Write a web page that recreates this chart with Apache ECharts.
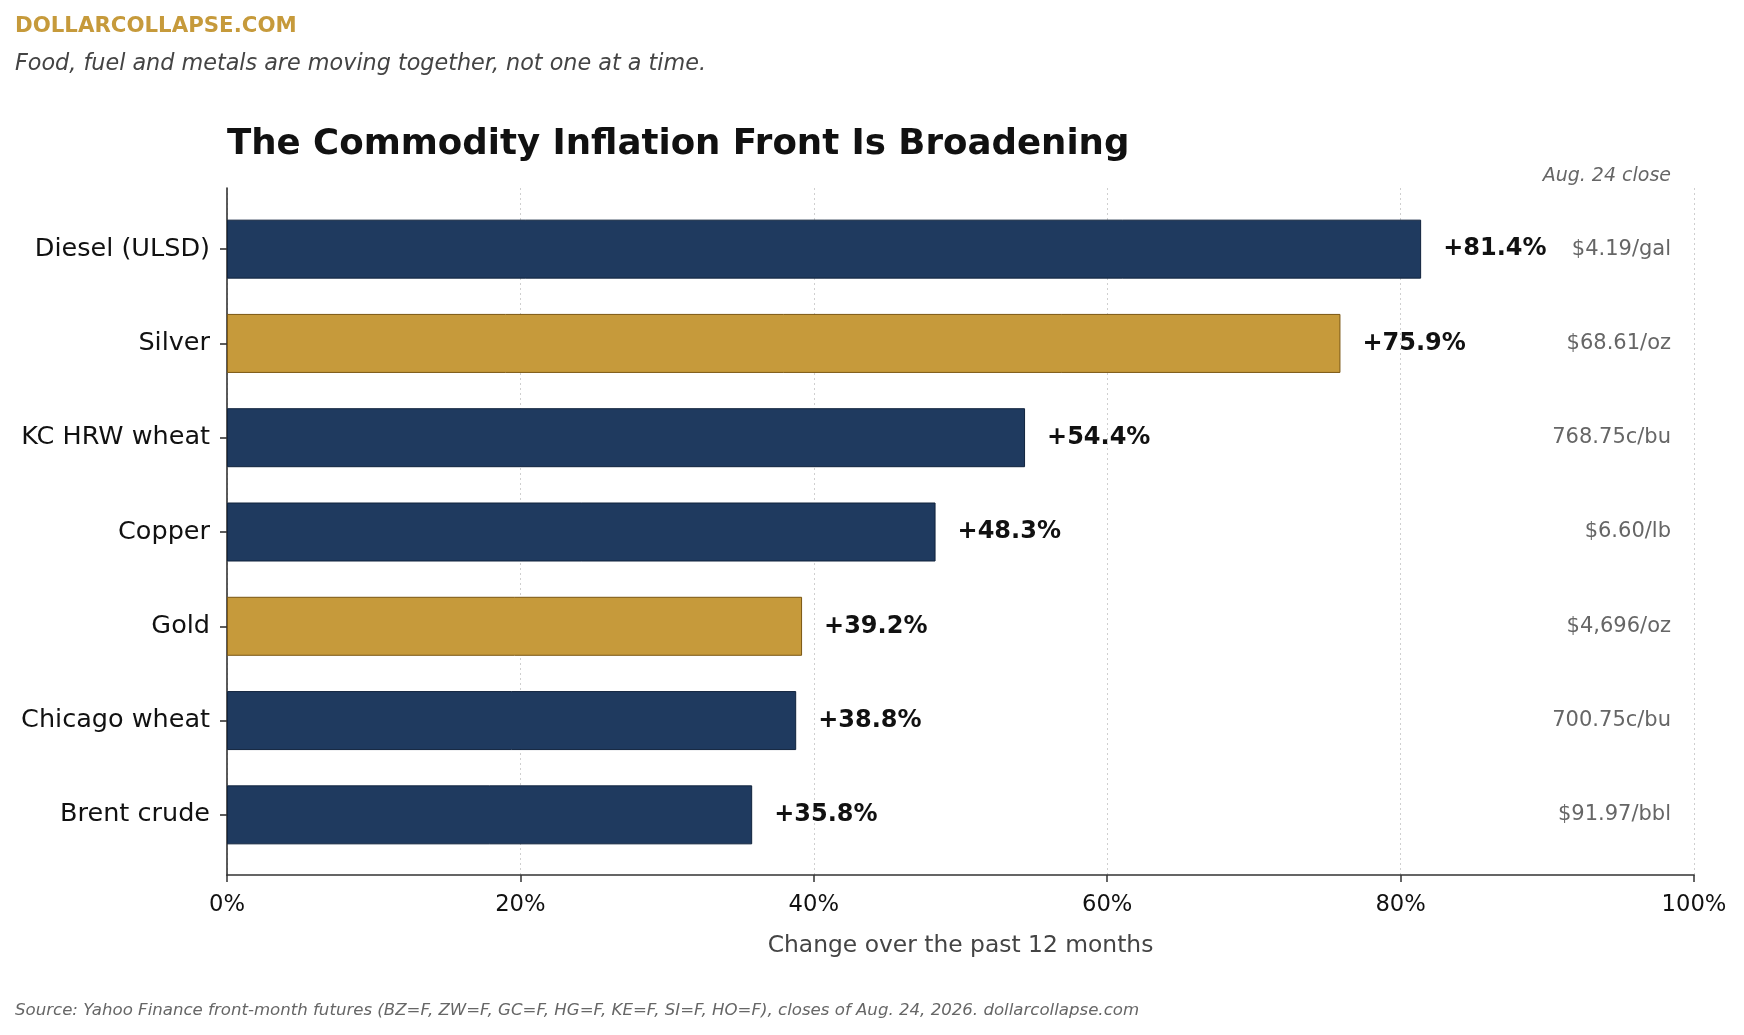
<!DOCTYPE html>
<html>
<head>
<meta charset="utf-8">
<title>The Commodity Inflation Front Is Broadening</title>
<script src="https://cdn.jsdelivr.net/npm/echarts@6/dist/echarts.min.js"></script>
<style>
  html, body { margin: 0; padding: 0; background: #ffffff; }
  #chart { width: 1744px; height: 1035px; }
</style>
</head>
<body>
<div id="chart"></div>
<script>
const FONT = "DejaVu Sans";

// data, top to bottom
const commodities = ["Diesel (ULSD)", "Silver", "KC HRW wheat", "Copper", "Gold", "Chicago wheat", "Brent crude"];
const yearChange = [81.4, 75.9, 54.4, 48.3, 39.2, 38.8, 35.8];
const closePrices = ["$4.19/gal", "$68.61/oz", "768.75c/bu", "$6.60/lb", "$4,696/oz", "700.75c/bu", "$91.97/bbl"];
const preciousMetals = ["Silver", "Gold"];
const xTicks = [0, 20, 40, 60, 80, 100];

const NAVY = "#1f3a5f";
const NAVY_EDGE = "#10233d";
const GOLD = "#c69a3b";
const GOLD_EDGE = "#7a5612";

const chart = echarts.init(document.getElementById("chart"));
window.addEventListener("resize", () => chart.resize());

const barData = commodities.map((name, i) => {
  const metal = preciousMetals.includes(name);
  return {
    value: yearChange[i],
    itemStyle: {
      color: metal ? GOLD : NAVY,
      borderColor: metal ? GOLD_EDGE : NAVY_EDGE,
      borderWidth: 1,
    },
  };
});

chart.setOption({
  animation: false,
  backgroundColor: "#ffffff",
  textStyle: { fontFamily: FONT },
  title: [
    {
      text: "DOLLARCOLLAPSE.COM",
      left: 15, top: 16, padding: 0,
      textStyle: { fontFamily: FONT, fontSize: 21.3, fontWeight: "bold", color: GOLD, lineHeight: 21 },
    },
    {
      text: "Food, fuel and metals are moving together, not one at a time.",
      left: 15, top: 53, padding: 0,
      textStyle: { fontFamily: FONT, fontSize: 22.3, fontStyle: "italic", fontWeight: "normal", color: "#444444", lineHeight: 22 },
    },
    {
      text: "The Commodity Inflation Front Is Broadening",
      left: 227, top: 127, padding: 0,
      textStyle: { fontFamily: FONT, fontSize: 35.6, fontWeight: "bold", color: "#111111", lineHeight: 36 },
    },
    {
      text: "Aug. 24 close",
      right: 73, top: 167, padding: 0,
      textStyle: { fontFamily: FONT, fontSize: 19, fontStyle: "italic", fontWeight: "normal", color: "#666666", lineHeight: 19 },
    },
    {
      text: "Source: Yahoo Finance front-month futures (BZ=F, ZW=F, GC=F, HG=F, KE=F, SI=F, HO=F), closes of Aug. 24, 2026. dollarcollapse.com",
      left: 15, top: 1002, padding: 0,
      textStyle: { fontFamily: FONT, fontSize: 16.6, fontStyle: "italic", fontWeight: "normal", color: "#666666", lineHeight: 17 },
    },
  ],
  grid: [
    // frame: spines, ticks and gridlines
    { left: 227, right: 50, top: 188, bottom: 160 },
    // bars: categories sit inside the frame with matplotlib-like padding
    { left: 227, right: 50, top: 202, bottom: 173 },
  ],
  xAxis: [
    {
      gridIndex: 0,
      type: "value",
      min: xTicks[0],
      max: xTicks[xTicks.length - 1],
      interval: 20,
      name: "Change over the past 12 months",
      nameLocation: "middle",
      nameGap: 59,
      nameTextStyle: { fontFamily: FONT, fontSize: 23.4, color: "#444444" },
      axisLine: { show: true, lineStyle: { color: "#333333", width: 1.6 } },
      axisTick: { show: true, length: 7, lineStyle: { color: "#333333", width: 1.5 } },
      axisLabel: {
        formatter: "{value}%",
        fontFamily: FONT, fontSize: 22.7, color: "#111111", margin: 19,
      },
      splitLine: { show: true, lineStyle: { color: "#cfcfcf", type: [2, 3], width: 1 } },
    },
    {
      gridIndex: 1,
      type: "value",
      min: xTicks[0],
      max: xTicks[xTicks.length - 1],
      show: false,
    },
  ],
  yAxis: [
    {
      gridIndex: 0,
      type: "value",
      min: 0,
      max: 1,
      axisLine: { show: true, lineStyle: { color: "#333333", width: 1.6 } },
      axisTick: { show: false },
      axisLabel: { show: false },
      splitLine: { show: false },
    },
    {
      gridIndex: 1,
      type: "category",
      inverse: true,
      data: commodities,
      axisLine: { show: false },
      axisTick: { show: true, alignWithLabel: true, length: 7, lineStyle: { color: "#333333", width: 1.6 } },
      axisLabel: { fontFamily: FONT, fontSize: 25.5, color: "#111111", margin: 17, padding: [8, 0, 0, 0] },
      splitLine: { show: false },
    },
    {
      gridIndex: 1,
      type: "category",
      inverse: true,
      position: "right",
      data: closePrices,
      axisLine: { show: false },
      axisTick: { show: false },
      axisLabel: { inside: true, margin: 23, fontFamily: FONT, fontSize: 21, color: "#666666", padding: [4, 0, 0, 0] },
      splitLine: { show: false },
    },
  ],
  series: [
    {
      type: "bar",
      xAxisIndex: 1,
      yAxisIndex: 1,
      barWidth: 59,
      data: barData,
      label: {
        show: true,
        position: "right",
        distance: 22,
        padding: [8, 0, 0, 0],
        formatter: (p) => "+" + p.value.toFixed(1) + "%",
        fontFamily: FONT,
        fontSize: 24,
        fontWeight: "bold",
        color: "#111111",
      },
    },
  ],
});
</script>
</body>
</html>
